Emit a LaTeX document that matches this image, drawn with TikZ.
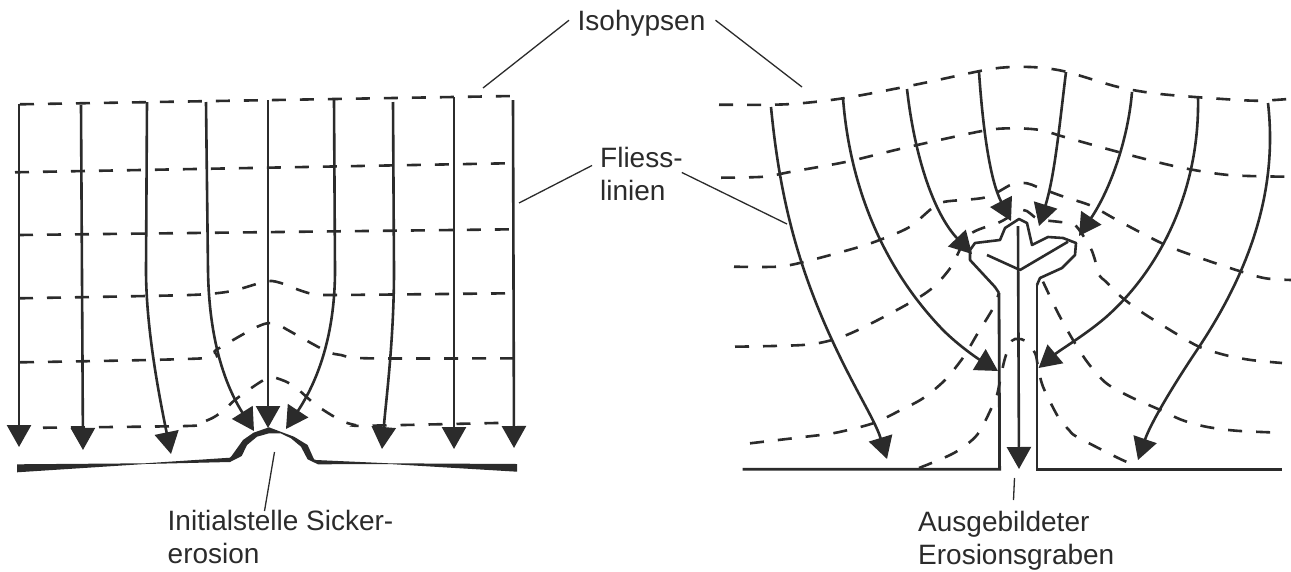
\documentclass[tikz,border=0pt]{standalone}
\usepackage{fontspec}
\setmainfont{Liberation Sans}
\usetikzlibrary{arrows.meta}
\definecolor{ink}{HTML}{2B2B2B}
\tikzset{
  iso/.style={draw=ink,line width=2.6pt,dash pattern=on 14pt off 14pt},
  flow/.style={draw=ink,line width=2.6pt,-{Triangle[width=24pt,length=22pt]}},
  wall/.style={draw=ink,line width=2.8pt,line join=miter},
  head/.style={draw=ink,line width=2.6pt,line join=round},
  leader/.style={draw=ink,line width=1.3pt},
  lab/.style={anchor=north west,inner sep=0pt,align=left,text=ink,font=\fontsize{28}{33}\selectfont},
}
\begin{document}
\begin{tikzpicture}[x=1pt,y=-1pt]
\useasboundingbox (0,0) rectangle (1291,571);
\fill[white] (0,0) rectangle (1291,571);
% labels
\node[lab] (isolabel) at (577.5,10) {Isohypsen};
\node[lab] (flowlabel) at (600,147) {Fliess-\\linien};
\node[lab] (initlabel) at (167.5,510) {Initialstelle Sicker-\\erosion};
\node[lab] (ausglabel) at (918,511) {Ausgebildeter\\Erosionsgraben};
\coordinate (isoL) at (483,88);
\coordinate (isoR) at (802,87);
\coordinate (flowL) at (519,203);
\coordinate (flowR) at (787,224);
\coordinate (initE) at (274.5,452);
\coordinate (ausgE) at (1014.5,478);
\draw[leader] ([xshift=-8.5pt,yshift=3pt]isolabel.west) -- (isoL);
\draw[leader] ([xshift=10pt,yshift=3pt]isolabel.east) -- (isoR);
\draw[leader] ([xshift=-8pt,yshift=8.5pt]flowlabel.west) -- (flowL);
\draw[leader] ([xshift=-1pt,yshift=1.5pt]flowlabel.east) -- (flowR);
\draw[leader] (initE) -- ([xshift=97pt,yshift=-1pt]initlabel.north west);
\draw[leader] (ausgE) -- ([xshift=95.5pt,yshift=11pt]ausglabel.north west);
% left panel: isohypses
\draw[iso] (20,104.3) -- (513,96);
\draw[iso] (15,172.3) -- (507,163.3);
\draw[iso] (19,235) -- (513,229.3);
\draw[iso] plot[smooth,tension=.5] coordinates {(19,298.3)(161,295.7)(204,294.3)(232,291)(259,283.3)(272,281)(287,285)(299,290)(313,294)(333,295)(510,293.3)};
\draw[iso] plot[smooth,tension=.5] coordinates {(20,362.3)(203,358.3)(216,350)(252,329.3)(267,323.3)(277,324)(289,330.7)(326,351)(341,355)(368,358.3)(520,358.3)};
\draw[iso] plot[smooth,tension=.5] coordinates {(15,428)(186,426)(199,423.3)(213,417.7)(225,409.3)(237,398.3)(267,378.3)(282,380)(296,387.7)(316,405)(340,420)(355,425)(368,425.7)(509,422.7)};
% left panel: flow lines
\draw[flow] (19,104) -- (19,447);
\draw[flow] (81,105) -- (83,450);
\draw[flow] (147,102) -- (146,270) .. controls (146,330) and (160,400) .. (171,454);
\draw[flow] (206,102) -- (208,270) .. controls (209,340) and (225,385) .. (254,431);
\draw[flow] (268,100) -- (268,428);
\draw[flow] (334,100) -- (335,270) .. controls (335,340) and (315,385) .. (286,429);
\draw[flow] (393,102) -- (394,270) .. controls (394,340) and (386,400) .. (382,449);
\draw[flow] (454,97) -- (454,449);
\draw[flow] (513,100) -- (514,448);
% left panel: ground with hump
\fill[ink] (17,464.3) -- (145,463.3) -- (230,457.7) -- (231.6,456) -- (243,440) -- (253.5,432.7) -- (269,427.3) -- (280.6,431.7) -- (294,436.7) -- (307.6,445) -- (314,459.3) -- (316,460) -- (389,463.3) -- (517,464) -- (517,471.7) -- (389,464) -- (318,464.3) -- (307.6,459.3) -- (301,446.7) -- (291,438.3) -- (280.6,433.3) -- (269,433.3) -- (257,436.7) -- (247,445) -- (241.7,456) -- (230,462) -- (145,464) -- (17,472.3) -- cycle;
% right panel: isohypses
\draw[iso] plot[smooth,tension=.5] coordinates {(719,104.7)(786,104.3)(843,98.3)(914,85)(980,71)(1006,67.3)(1036,67.3)(1066,71.7)(1117,86.7)(1154,93.3)(1199,97.3)(1254,100.7)(1288,99)};
\draw[iso] plot[smooth,tension=.5] coordinates {(721,177.7)(764,176.7)(791.5,171.7)(847,161.7)(902.6,148.3)(982,131)(1012,128.3)(1040,130)(1065.6,137.3)(1121,152.7)(1177,166.7)(1228.5,175)(1288,176.7)};
\draw[iso] plot[smooth,tension=.5] coordinates {(734,266.7)(776.7,266.7)(802.6,262.3)(858,247.3)(884,238.3)(910,226.7)(932,208.3)(945,201.7)(986,197.3)(1012,184.3)(1027,183.3)(1038,187.3)(1063.7,196.7)(1091,205.7)(1117,220)(1165.5,245)(1206,260)(1241.5,271.7)(1265.5,278.3)(1291,280)};
\draw[iso] plot[smooth,tension=.5] coordinates {(735,346.7)(802.6,345)(832,340)(858,330)(906,305)(932,288.3)(951,267)(969,235)(1000,222)(1023,210)(1038,219)(1060,222)(1075,225)(1090,247)(1095,260)(1099,275)(1106,281.7)(1121,296.7)(1143,313)(1175,333)(1199,346.7)(1225,355)(1251,360)(1282,363)};
\draw[iso] plot[smooth,tension=.5] coordinates {(750,443.3)(806,436.7)(836,432.7)(873,423.3)(899,411)(923,398.3)(945,380)(963.7,356.7)(976.7,335)(993,308.3)(999,293)};
\draw[iso] plot[smooth,tension=.5] coordinates {(1043,281.7)(1058,313)(1073,340)(1088,363)(1106,383)(1130,396.7)(1158,409)(1182,420)(1206,426.7)(1236,430.7)(1280,432.7)};
\draw[iso] plot[smooth,tension=.5] coordinates {(919,468)(954,453)(977,435)(991.5,408)(997,395)(1002.6,368)(1006,355)(1012,340.7)(1018,339)(1025,340.7)(1035,353)(1038,366.7)(1043,386.7)(1058,416.7)(1069,430)(1076.7,436.7)(1115.5,456.7)(1128.5,462.7)};
% right panel: flow lines
\draw[flow] (771,107) .. controls (779,190) and (795,260) .. (832,340) .. controls (855,390) and (875,420) .. (887,459);
\draw[flow] (843,98) .. controls (850,190) and (885,270) .. (943,330) .. controls (960,347) and (980,360) .. (998,371);
\draw[flow] (907,89) .. controls (915,160) and (935,215) .. (972,254);
\draw[flow] (979,72) .. controls (983,130) and (990,180) .. (1011,221);
\draw[flow] (1066,72) .. controls (1060,120) and (1055,175) .. (1039,226);
\draw[flow] (1132,92) .. controls (1128,140) and (1110,190) .. (1079,236);
\draw[flow] (1198,97) .. controls (1200,190) and (1160,270) .. (1105,318) .. controls (1085,335) and (1060,350) .. (1038.6,368);
\draw[flow] (1268,103) .. controls (1278,190) and (1250,270) .. (1199,347) .. controls (1170,390) and (1150,425) .. (1138,460);
\draw[flow] (1018,226) -- (1019,469);
% right panel: trench outline
\draw[wall] (742.6,469.3) -- (999.6,469.3) -- (999,293);
\draw[head] (999,293) -- (995,287) -- (970,260) -- (970,250) -- (975,243) -- (1000,240) -- (1005,228) -- (1019,219) -- (1027,223) -- (1032,245) -- (1048,237) -- (1063,238) -- (1076,243) -- (1075,255) -- (1062,268) -- (1040,278) -- (1037,285);
\draw[wall] (1037,285) -- (1037,469.3) -- (1282,469.3);
\draw[head] (987,255) -- (1020,270) -- (1068,241.7);
\end{tikzpicture}
\end{document}
